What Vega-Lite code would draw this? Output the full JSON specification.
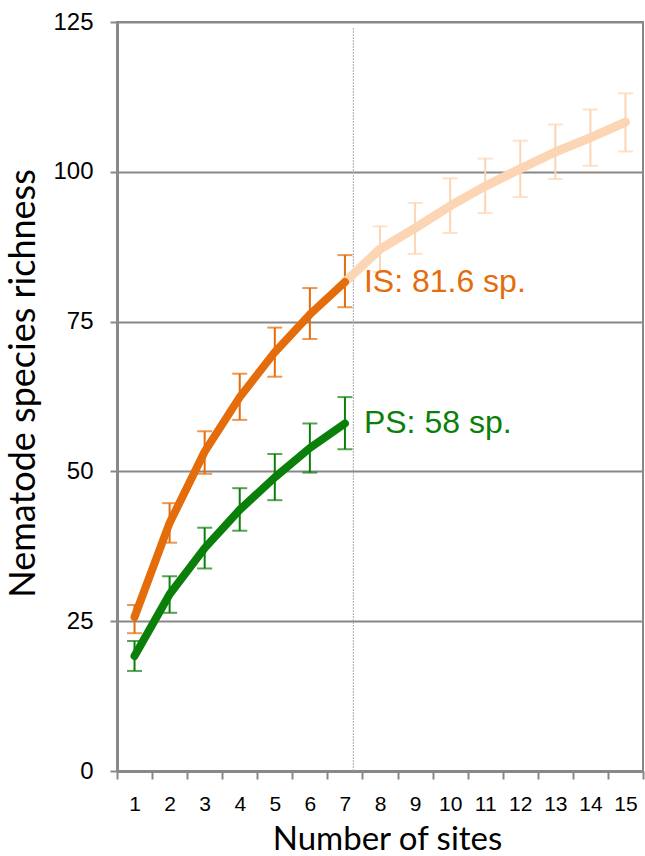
{
  "$schema": "https://vega.github.io/schema/vega-lite/v6.json",
  "width": 526,
  "height": 749,
  "autosize": {"type": "none"},
  "padding": {"left": 117, "top": 22, "right": 2, "bottom": 85},
  "background": "white",
  "config": {
    "view": {"stroke": "#888888", "strokeWidth": 2},
    "axis": {
      "labelFont": "Liberation Sans",
      "labelColor": "#000000",
      "titleColor": "#000000",
      "titleFont": "Lato",
      "titleFontWeight": "normal",
      "domainColor": "#888888",
      "domainWidth": 3,
      "tickColor": "#888888",
      "tickWidth": 2,
      "gridColor": "#888888",
      "gridWidth": 2
    }
  },
  "datasets": {
    "curves": [
      {"site": 1, "series": "IS", "richness": 25.7},
      {"site": 2, "series": "IS", "richness": 41.4},
      {"site": 3, "series": "IS", "richness": 53.3},
      {"site": 4, "series": "IS", "richness": 62.4},
      {"site": 5, "series": "IS", "richness": 69.9},
      {"site": 6, "series": "IS", "richness": 76.2},
      {"site": 7, "series": "IS", "richness": 81.6},
      {"site": 7, "series": "IS_ext", "richness": 81.6},
      {"site": 8, "series": "IS_ext", "richness": 87.1},
      {"site": 9, "series": "IS_ext", "richness": 90.6},
      {"site": 10, "series": "IS_ext", "richness": 94.3},
      {"site": 11, "series": "IS_ext", "richness": 97.6},
      {"site": 12, "series": "IS_ext", "richness": 100.5},
      {"site": 13, "series": "IS_ext", "richness": 103.3},
      {"site": 14, "series": "IS_ext", "richness": 105.7},
      {"site": 15, "series": "IS_ext", "richness": 108.3},
      {"site": 1, "series": "PS", "richness": 19.2},
      {"site": 2, "series": "PS", "richness": 29.5},
      {"site": 3, "series": "PS", "richness": 37.2},
      {"site": 4, "series": "PS", "richness": 43.6},
      {"site": 5, "series": "PS", "richness": 49.0},
      {"site": 6, "series": "PS", "richness": 53.9},
      {"site": 7, "series": "PS", "richness": 58.0}
    ],
    "bars": [
      {"site": 1, "series": "IS", "lo": 23.0, "hi": 27.7},
      {"site": 2, "series": "IS", "lo": 38.1, "hi": 44.7},
      {"site": 3, "series": "IS", "lo": 49.6, "hi": 56.7},
      {"site": 4, "series": "IS", "lo": 58.6, "hi": 66.3},
      {"site": 5, "series": "IS", "lo": 65.8, "hi": 74.0},
      {"site": 6, "series": "IS", "lo": 72.1, "hi": 80.6},
      {"site": 7, "series": "IS", "lo": 77.4, "hi": 86.1},
      {"site": 8, "series": "IS_ext", "lo": 83.3, "hi": 90.9},
      {"site": 9, "series": "IS_ext", "lo": 86.3, "hi": 94.8},
      {"site": 10, "series": "IS_ext", "lo": 89.8, "hi": 98.9},
      {"site": 11, "series": "IS_ext", "lo": 93.1, "hi": 102.2},
      {"site": 12, "series": "IS_ext", "lo": 95.8, "hi": 105.2},
      {"site": 13, "series": "IS_ext", "lo": 98.8, "hi": 107.9},
      {"site": 14, "series": "IS_ext", "lo": 101.0, "hi": 110.4},
      {"site": 15, "series": "IS_ext", "lo": 103.4, "hi": 113.1},
      {"site": 1, "series": "PS", "lo": 16.7, "hi": 21.7},
      {"site": 2, "series": "PS", "lo": 26.4, "hi": 32.5},
      {"site": 3, "series": "PS", "lo": 33.8, "hi": 40.6},
      {"site": 4, "series": "PS", "lo": 40.1, "hi": 47.2},
      {"site": 5, "series": "PS", "lo": 45.2, "hi": 52.9},
      {"site": 6, "series": "PS", "lo": 49.8, "hi": 58.0},
      {"site": 7, "series": "PS", "lo": 53.7, "hi": 62.4}
    ],
    "labels": [
      {"site": 7, "series": "IS", "richness": 81.6, "label": "IS: 81.6 sp."},
      {"site": 7, "series": "PS", "richness": 58.0, "label": "PS: 58 sp."}
    ],
    "divider": [
      {"site": 7, "y0": 0, "y1": 124}
    ]
  },
  "encoding": {
    "x": {
      "field": "site",
      "type": "ordinal",
      "scale": {"domain": [1,2,3,4,5,6,7,8,9,10,11,12,13,14,15], "paddingInner": 0, "paddingOuter": 0},
      "axis": {
        "title": "Number of sites",
        "titleFontSize": 33,
        "titlePadding": 9,
        "titleX": 270,
        "labelAngle": 0,
        "labelFontSize": 21,
        "labelPadding": 14,
        "tickSize": 8,
        "tickBand": "extent",
        "grid": false
      }
    }
  },
  "layer": [
    {
      "data": {"name": "divider"},
      "mark": {"type": "rule", "color": "#aaaaaa", "strokeWidth": 1, "strokeDash": [2, 1]},
      "encoding": {
        "x": {"field": "site", "type": "ordinal", "bandPosition": 0.74},
        "y": {
          "field": "y0",
          "type": "quantitative",
          "scale": {"domain": [0, 125], "nice": false, "zero": true},
          "axis": {
            "title": "Nematode species richness",
            "titleFontSize": 36,
            "titlePadding": 10,
            "titleY": 361,
            "labelFontSize": 24,
            "labelPadding": 17,
            "tickSize": 7,
            "values": [0, 25, 50, 75, 100, 125],
            "grid": true
          }
        },
        "y2": {"field": "y1"}
      }
    },
    {
      "data": {"name": "bars"},
      "mark": {"type": "rule", "strokeWidth": 2},
      "encoding": {
        "y": {"field": "lo", "type": "quantitative"},
        "y2": {"field": "hi"},
        "color": {"field": "series", "type": "nominal", "scale": {"domain": ["IS", "IS_ext", "PS"], "range": ["#E46C0A", "#FCD5B4", "#0A7F0A"]}, "legend": null}
      }
    },
    {
      "data": {"name": "bars"},
      "mark": {"type": "tick", "thickness": 2, "size": 15},
      "encoding": {
        "y": {"field": "lo", "type": "quantitative"},
        "color": {"field": "series", "type": "nominal"}
      }
    },
    {
      "data": {"name": "bars"},
      "mark": {"type": "tick", "thickness": 2, "size": 15},
      "encoding": {
        "y": {"field": "hi", "type": "quantitative"},
        "color": {"field": "series", "type": "nominal"}
      }
    },
    {
      "data": {"name": "curves"},
      "transform": [{"filter": "datum.series === 'IS_ext'"}],
      "mark": {"type": "line", "strokeWidth": 9, "strokeCap": "round", "strokeJoin": "round"},
      "encoding": {
        "y": {"field": "richness", "type": "quantitative"},
        "color": {"field": "series", "type": "nominal"}
      }
    },
    {
      "data": {"name": "curves"},
      "transform": [{"filter": "datum.series !== 'IS_ext'"}],
      "mark": {"type": "line", "strokeWidth": 8, "strokeCap": "round", "strokeJoin": "round"},
      "encoding": {
        "y": {"field": "richness", "type": "quantitative"},
        "color": {"field": "series", "type": "nominal"},
        "detail": {"field": "series"}
      }
    },
    {
      "data": {"name": "labels"},
      "mark": {"type": "text", "align": "left", "baseline": "middle", "dx": 19, "font": "Liberation Sans", "fontSize": 32},
      "encoding": {
        "y": {"field": "richness", "type": "quantitative"},
        "text": {"field": "label"},
        "color": {"field": "series", "type": "nominal"}
      }
    }
  ]
}
